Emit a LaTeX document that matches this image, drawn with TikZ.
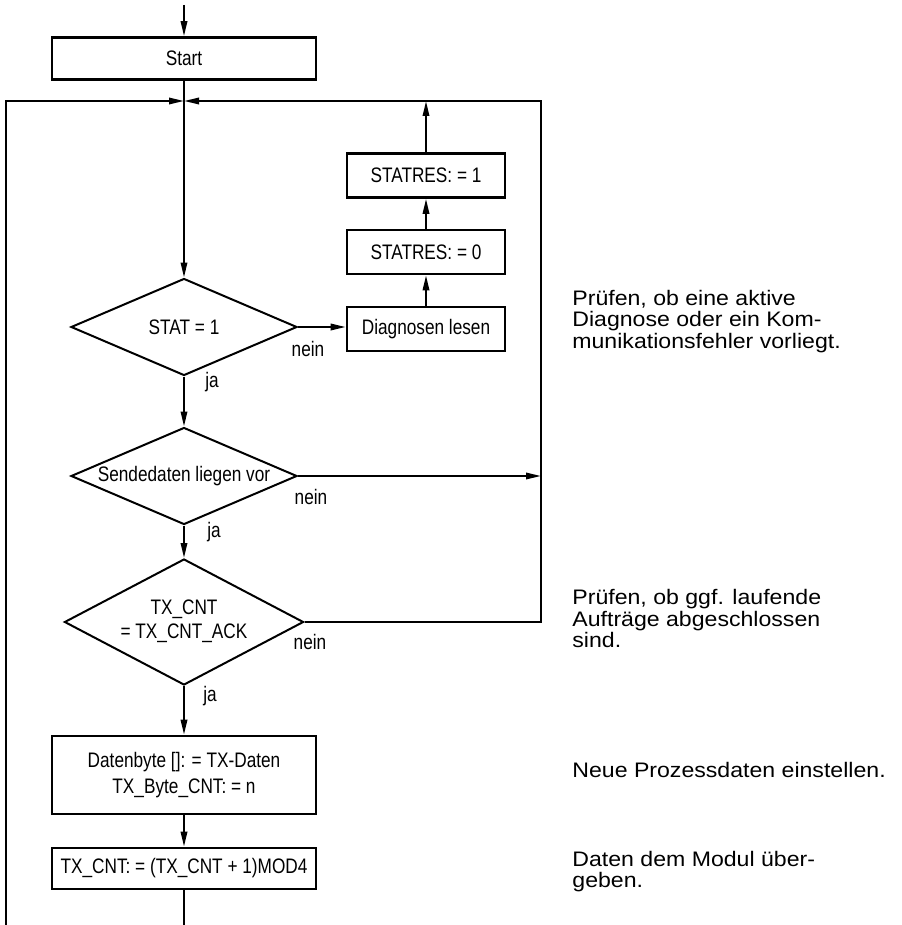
\documentclass[tikz,border=0pt]{standalone}
\usepackage{fontspec}
\setmainfont{Liberation Sans}
\newfontfamily\narrowfont[FakeStretch=0.82]{Liberation Sans}
\newfontfamily\notefont[FakeStretch=1.1]{Liberation Sans}
\usetikzlibrary{positioning}
\usetikzlibrary{shapes.geometric}
\usetikzlibrary{arrows.meta}
\tikzset{
  box/.style={draw, line width=1.3pt, shape=rectangle, minimum width=132pt, minimum height=21pt, inner sep=0pt, align=center, font=\narrowfont\fontsize{10.5}{13}\selectfont},
  smallbox/.style={box, minimum width=79pt, minimum height=22pt},
  decision/.style={draw, line width=1pt, shape=diamond, aspect=2.34, minimum width=113pt, minimum height=48.5pt, inner sep=0pt, align=center, font=\narrowfont\fontsize{10.5}{12}\selectfont},
  lbl/.style={inner sep=0pt, font=\narrowfont\fontsize{10.5}{12}\selectfont},
  note/.style={anchor=west, align=left, inner sep=0pt, font=\notefont\fontsize{10.5}{10.8}\selectfont},
  flow/.style={line width=1pt},
  flowarrow/.style={flow, -{Triangle[length=7.5pt,width=3.2pt]}}
}

\begin{document}
\begin{tikzpicture}[x=0.5pt,y=-0.5pt]
\useasboundingbox (0,0) rectangle (901,925);

% main column
\node[box] (start) at (184,58.5) {Start};
\node[decision] (stat) at (184,327) {STAT = 1};
\node[decision] (send) at (184,476) {Sendedaten liegen vor};
\node[decision, minimum height=63pt] (txcnt) at (184,622)
{\raisebox{5pt}{\begin{tabular}{@{}c@{}}TX\_CNT\\= TX\_CNT\_ACK\end{tabular}}};
\node[box, minimum height=39pt] (daten) at (184,775)
{Datenbyte []: = TX-Daten\\TX\_Byte\_CNT: = n};
\node[box, minimum height=20.5pt] (txinc) at (184,868.5) {TX\_CNT: = (TX\_CNT + 1)MOD4};

% diagnosis branch
\node[smallbox] (diag) at (426,329) {Diagnosen lesen};
\node[smallbox] (statres0) at (426,252) {STATRES: = 0};
\node[smallbox] (statres1) at (426,175.5) {STATRES: = 1};

% loop points
\coordinate (in) at (184,5);
\coordinate (j) at (184,101);
\coordinate (lt) at (6,101);
\coordinate (lb) at (6,925);
\coordinate (rt) at (541,101);
\coordinate (rb) at (541,622);
\coordinate (sendr) at (541,476);
\coordinate (up1) at (426,101);
\coordinate (out) at (184,925);

% connectors
\draw[flowarrow] (in) -- (start);
\draw[flowarrow] (start) -- (stat);
\draw[flowarrow] (lb) -- (lt) -- (j);
\draw[flowarrow] (txcnt.east) -- (rb) -- (rt) -- (j);
\draw[flowarrow] (send.east) -- (sendr);
\draw[flowarrow] (stat.east) -- (stat.east -| diag.west);
\draw[flowarrow] (diag) -- (statres0);
\draw[flowarrow] (statres0) -- (statres1);
\draw[flowarrow] (statres1) -- (up1);
\draw[flowarrow] (stat) -- (send);
\draw[flowarrow] (send) -- (txcnt);
\draw[flowarrow] (txcnt) -- (daten);
\draw[flowarrow] (daten) -- (txinc);
\draw[flow] (txinc) -- (out);

% branch labels
\node[lbl] (nein1) at (308,349) {nein};
\node[lbl] (ja1) at (212,382) {ja};
\node[lbl] (nein2) at (311,497) {nein};
\node[lbl] (ja2) at (214,532) {ja};
\node[lbl] (nein3) at (310,642) {nein};
\node[lbl] (ja3) at (210,696) {ja};

% comments on the right
\node[note] (note1) at (572,321.5) {Prüfen, ob eine aktive\\Diagnose oder ein Kom-\\munikationsfehler vorliegt.};
\node[note] (note2) at (572,618.5) {Prüfen, ob ggf. laufende\\Aufträge abgeschlossen\\sind.};
\node[note] (note3) at (572,770) {Neue Prozessdaten einstellen.};
\node[note] (note4) at (572,871.5) {Daten dem Modul über-\\geben.};

\end{tikzpicture}
\end{document}
